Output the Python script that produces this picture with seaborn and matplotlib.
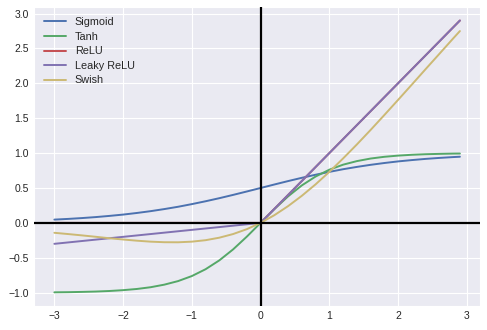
import matplotlib
matplotlib.use("Agg")
import matplotlib.pyplot as plt
import seaborn as sns
import pandas as pd

# Sample inputs
x = [-3.0, -2.8, -2.6, -2.4, -2.2, -2.0, -1.8, -1.6, -1.4, -1.2, -1.0, -0.8,
     -0.6, -0.4, -0.2, 0.0, 0.2, 0.4, 0.6, 0.8, 1.0, 1.2, 1.4, 1.6, 1.8, 2.0,
     2.2, 2.4, 2.6, 2.8, 2.9]

sigmoid = [0.047, 0.057, 0.069, 0.083, 0.100, 0.119, 0.142, 0.168, 0.198, 0.231,
           0.269, 0.310, 0.354, 0.401, 0.450, 0.500, 0.550, 0.599, 0.646, 0.690,
           0.731, 0.769, 0.802, 0.832, 0.858, 0.881, 0.900, 0.917, 0.931, 0.943,
           0.948]

tanh = [-0.995, -0.993, -0.989, -0.984, -0.976, -0.964, -0.947, -0.922, -0.885,
        -0.834, -0.762, -0.664, -0.537, -0.380, -0.197, 0.000, 0.197, 0.380,
        0.537, 0.664, 0.762, 0.834, 0.885, 0.922, 0.947, 0.964, 0.976, 0.984,
        0.989, 0.993, 0.994]

relu = [0.0, 0.0, 0.0, 0.0, 0.0, 0.0, 0.0, 0.0, 0.0, 0.0, 0.0, 0.0, 0.0, 0.0,
        0.0, 0.0, 0.2, 0.4, 0.6, 0.8, 1.0, 1.2, 1.4, 1.6, 1.8, 2.0, 2.2, 2.4,
        2.6, 2.8, 2.9]

leaky_relu = [-0.30, -0.28, -0.26, -0.24, -0.22, -0.20, -0.18, -0.16, -0.14,
              -0.12, -0.10, -0.08, -0.06, -0.04, -0.02, 0.0, 0.2, 0.4, 0.6, 0.8,
              1.0, 1.2, 1.4, 1.6, 1.8, 2.0, 2.2, 2.4, 2.6, 2.8, 2.9]

swish = [-0.142, -0.160, -0.179, -0.199, -0.220, -0.238, -0.255, -0.269, -0.277,
         -0.278, -0.269, -0.248, -0.212, -0.160, -0.090, 0.000, 0.110, 0.240,
         0.388, 0.552, 0.731, 0.923, 1.123, 1.331, 1.545, 1.762, 1.981, 2.202,
         2.421, 2.641, 2.749]

names = ["Sigmoid", "Tanh", "ReLU", "Leaky ReLU", "Swish"]
series = [sigmoid, tanh, relu, leaky_relu, swish]
colors = ["#4C72B0", "#55A868", "#C44E52", "#8172B2", "#CCB974"]

df = pd.concat(
    [pd.DataFrame({"x": x, "y": s, "fn": n}) for n, s in zip(names, series)],
    ignore_index=True,
)

sns.set_style("darkgrid")
plt.rcParams["font.family"] = ["Liberation Sans", "DejaVu Sans"]

fig = plt.figure(figsize=(4.87, 3.3), dpi=100)
ax = fig.add_axes([0.070, 0.073, 0.916, 0.906])

sns.lineplot(data=df, x="x", y="y", hue="fn", hue_order=names,
             palette=colors, linewidth=1.4, ax=ax, sort=False)

ax.axhline(0, color="black", linewidth=1.6, zorder=3)
ax.axvline(0, color="black", linewidth=1.6, zorder=3)

ax.set_xlabel("")
ax.set_ylabel("")
ax.tick_params(labelsize=7.5, colors=".15", length=0, pad=4)
ax.legend(loc="upper left", frameon=False, fontsize=7.8, handlelength=2.0,
          handletextpad=0.8, labelspacing=0.42, borderaxespad=0.55)

fig.savefig("out.png", dpi=100, facecolor="white")
